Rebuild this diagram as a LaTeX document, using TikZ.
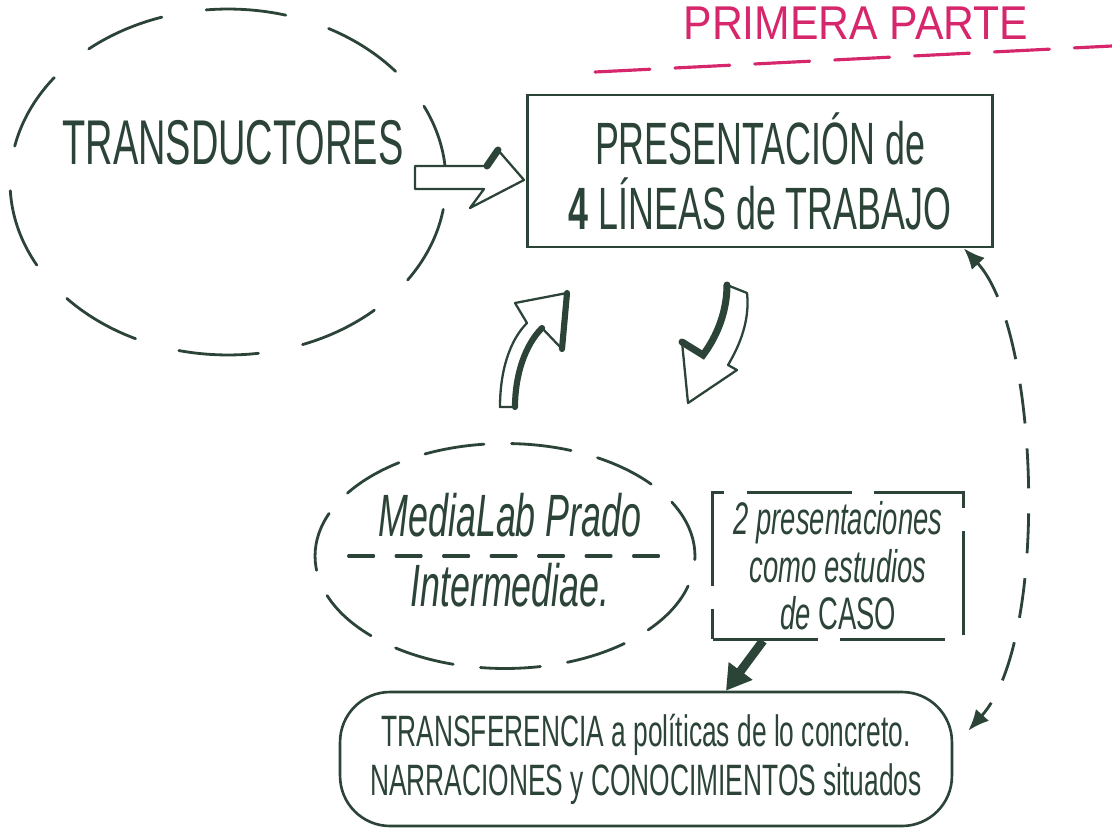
\documentclass[tikz,border=0pt]{standalone}
\usepackage{fontspec}
\setmainfont{Liberation Sans}
\newfontfamily\hand[FakeStretch=0.6]{Liberation Sans}
\newfontfamily\handwide[FakeStretch=0.9]{Liberation Sans}
\usetikzlibrary{shapes.geometric,arrows.meta}
\definecolor{ink}{RGB}{44,68,56}
\definecolor{pinkink}{RGB}{214,38,108}
\tikzset{
  dashellipse/.style={ellipse, draw=ink, line width=1.6pt, line cap=round},
  box/.style={draw=ink, line width=1.5pt},
  bigarrow/.style={draw=ink, fill=white, line width=1.3pt, line join=round},
}

\begin{document}
\begin{tikzpicture}[x=0.02cm, y=-0.02cm, ink, text=ink]
\useasboundingbox (0,0) rectangle (1112,832);

% title and divider
\node (title) at (856,23) [text=pinkink, font=\handwide\fontsize{27}{29}\selectfont] {PRIMERA PARTE};
\draw[pinkink, line width=1.8pt, line cap=round, dash pattern=on 1.1cm off 0.5cm] (595,72) -- (1112,46);

% transductores
\node (trans) at (228,182) [dashellipse, minimum width=8.72cm, minimum height=6.92cm, dash pattern=on 1.6cm off 0.9cm] {};
\node (transtxt) at (233,143) [font=\hand\fontsize{36}{38}\selectfont] {TRANSDUCTORES};

% main box
\node (pres) at (760,171) [box, minimum width=9.3cm, minimum height=3.04cm, align=center,
  font=\hand\fontsize{34}{37}\selectfont] {PRESENTACIÓN de\\\textbf{4} LÍNEAS de TRABAJO};

% medialab
\node (mlp) at (505,556) [dashellipse, minimum width=7.6cm, minimum height=4.5cm, dash pattern=on 1.2cm off 0.55cm] {};
\node (mlptxt) at (510,550) [align=center, font=\hand\itshape\fontsize{34}{40}\selectfont] {MediaLab Prado\\Intermediae.};
\draw[line width=1.8pt, line cap=round, dash pattern=on 0.5cm off 0.45cm] ([xshift=0.7cm]mlp.west) -- ([xshift=-0.4cm]mlp.east);

% casos
\node (caso) at (838,566) [box, minimum width=5.02cm, minimum height=2.94cm, dash pattern=on 2.1cm off 0.45cm, align=center,
  font=\hand\itshape\fontsize{26}{27}\selectfont] {2 presentaciones\\como estudios\\de \upshape CASO};

% transferencia
\node (transf) at (646,759) [box, rounded corners=1cm, minimum width=12.24cm, minimum height=2.68cm, align=center,
  font=\hand\fontsize{25}{28}\selectfont] {TRANSFERENCIA a políticas de lo concreto.\\NARRACIONES y CONOCIMIENTOS situados};

% block arrows
\draw[bigarrow] (415,166) -- (487,166) -- (498,150) -- (524,180) -- (470,208) -- (484,189) -- (415,189) -- cycle;
\draw[line width=4pt, line cap=round] (487,166) -- (498,150);
\draw[bigarrow] (500,407) .. controls (500,370) and (510,340) .. (527,323) -- (515,303) -- (567,293) -- (562,349)
  -- (542,328) .. controls (525,345) and (515,375) .. (515,407) -- cycle;
\draw[line width=3.5pt, line cap=round] (567,293) -- (562,349) (542,328) .. controls (525,345) and (515,375) .. (515,407);
\draw[bigarrow] (727,285) -- (747,293) .. controls (750,320) and (740,345) .. (728,365) -- (737,370) -- (688,403)
  -- (682,342) -- (703,355) .. controls (718,335) and (727,310) .. (727,285) -- cycle;
\draw[line width=4pt, line cap=round] (682,342) -- (703,355) .. controls (718,335) and (727,310) .. (727,285);

% connectors
\draw[line width=5pt, -{Triangle[length=14pt,width=16pt]}] ([xshift=-1.5cm]caso.south) -- ([xshift=1.6cm]transf.north);
\draw[line width=1.6pt, dash pattern=on 0.8cm off 0.5cm, {Latex[length=12pt,width=10pt]}-{Latex[length=12pt,width=10pt]}]
  ([xshift=-0.6cm]pres.south east) .. controls (1040,330) and (1050,640) .. ([xshift=0.3cm, yshift=-0.8cm]transf.north east);
\end{tikzpicture}
\end{document}
